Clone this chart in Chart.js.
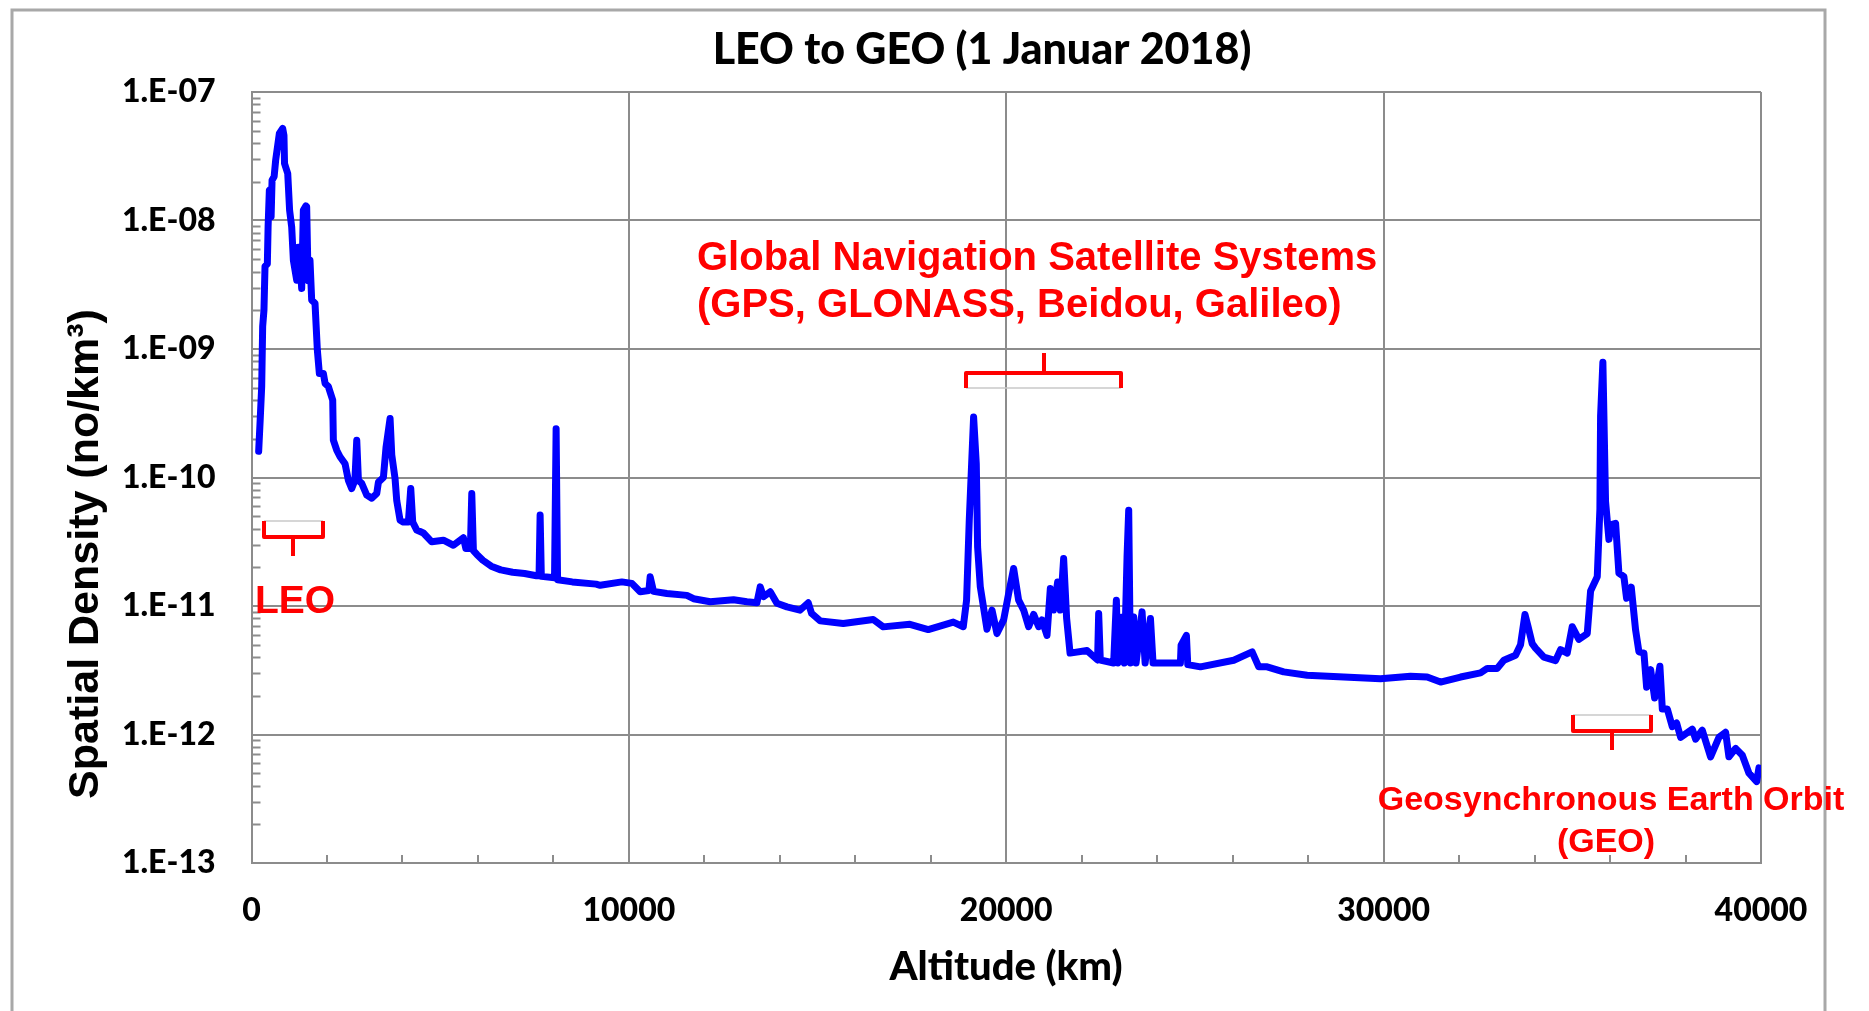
<!DOCTYPE html>
<html>
<head>
<meta charset="utf-8">
<script src="https://cdn.jsdelivr.net/npm/chart.js@4.4.0/dist/chart.umd.min.js"></script>
<style>
html,body{margin:0;padding:0;background:#fff;overflow:hidden}
#wrap{width:1869px;height:1011px;position:relative}
</style>
</head>
<body>
<div id="wrap"><canvas id="c" width="1869" height="1011"></canvas></div>
<script>
// ---------- DATA ----------
const chartTitle = 'LEO to GEO (1 Januar 2018)';
const xAxisTitle = 'Altitude (km)';
const yAxisTitle = 'Spatial Density (no/km³)';

const xTickValues = [0, 10000, 20000, 30000, 40000];
const yTickValues = [1e-13, 1e-12, 1e-11, 1e-10, 1e-9, 1e-8, 1e-7];
const yTickLabels = ['1.E-13', '1.E-12', '1.E-11', '1.E-10', '1.E-09', '1.E-08', '1.E-07'];

const altitudeKm = [
  190, 230, 270, 296, 330, 358, 420, 440, 473, 500, 520, 545, 600, 640, 738, 826, 860, 875, 960, 1010,
  1065, 1110, 1198, 1240, 1280, 1330, 1374, 1440, 1462, 1500, 1550, 1595, 1683, 1745, 1798, 1904, 1950, 2037, 2152, 2169,
  2258, 2346, 2479, 2567, 2656, 2740, 2789, 2833, 2921, 3054, 3187, 3319, 3363, 3495, 3566, 3672, 3717, 3804, 3849, 3937,
  4025, 4157, 4220, 4272, 4379, 4555, 4776, 5085, 5350, 5615, 5680, 5800, 5837, 5880, 5972, 6130, 6352, 6604, 6920, 7236,
  7552, 7620, 7648, 7680, 8030, 8072, 8110, 8500, 9132, 9239, 9814, 10079, 10299, 10530, 10564, 10653, 11007, 11537, 11713, 12155,
  12773, 13128, 13393, 13481, 13569, 13746, 13923, 14188, 14533, 14753, 14842, 15070, 15681, 16475, 16740, 17447, 17933, 18596, 18861, 18949,
  19020, 19135, 19206, 19241, 19312, 19489, 19622, 19754, 19931, 20063, 20196, 20328, 20461, 20593, 20726, 20859, 20947, 21080, 21168, 21257,
  21362, 21433, 21521, 21600, 21691, 22141, 22420, 22449, 22492, 22846, 22918, 22960, 23077, 23130, 23201, 23245, 23289, 23378, 23440, 23599,
  23680, 23821, 23890, 24261, 24615, 24633, 24774, 24810, 25145, 26029, 26515, 26691, 26913, 27352, 27973, 28945, 29917, 30712, 31154, 31508,
  32038, 32568, 32745, 33011, 33186, 33496, 33628, 33745, 33823, 33937, 34025, 34246, 34556, 34688, 34865, 34998, 35174, 35396, 35484, 35661,
  35731, 35749, 35810, 35881, 35970, 36032, 36147, 36235, 36367, 36438, 36562, 36677, 36765, 36898, 36969, 37075, 37181, 37321, 37385, 37517,
  37650, 37764, 37870, 38180, 38267, 38444, 38664, 38885, 39062, 39150, 39327, 39505, 39681, 39885, 39946, 40000
];
const densityPerKm3 = [
  1.6e-10, 2.8e-10, 5.1e-10, 1.5e-9, 2.0e-9, 4.4e-9, 4.6e-9, 9.0e-9, 1.72e-8, 1.75e-8, 1.07e-8, 2.06e-8, 2.2e-8, 2.94e-8, 4.75e-8, 5.2e-8, 4.6e-8, 2.78e-8, 2.32e-8, 1.2e-8,
  8.9e-9, 4.9e-9, 3.43e-9, 6.2e-9, 4.9e-9, 2.96e-9, 1.2e-8, 1.3e-8, 1.28e-8, 3.4e-9, 4.9e-9, 2.4e-9, 2.27e-9, 9.8e-10, 6.45e-10, 6.45e-10, 5.4e-10, 5.1e-10, 4.0e-10, 1.95e-10,
  1.63e-10, 1.45e-10, 1.28e-10, 9.5e-11, 8.2e-11, 9.5e-11, 1.95e-10, 9.5e-11, 9.0e-11, 7.3e-11, 6.9e-11, 7.5e-11, 9.2e-11, 1.0e-10, 1.73e-10, 2.88e-10, 1.5e-10, 9.8e-11, 6.6e-11, 4.65e-11,
  4.5e-11, 4.5e-11, 8.2e-11, 4.5e-11, 3.9e-11, 3.7e-11, 3.16e-11, 3.25e-11, 2.97e-11, 3.4e-11, 2.8e-11, 2.8e-11, 7.5e-11, 2.7e-11, 2.52e-11, 2.27e-11, 2.04e-11, 1.91e-11, 1.83e-11, 1.79e-11,
  1.72e-11, 1.72e-11, 5.1e-11, 1.7e-11, 1.66e-11, 2.4e-10, 1.6e-11, 1.54e-11, 1.48e-11, 1.45e-11, 1.54e-11, 1.5e-11, 1.29e-11, 1.32e-11, 1.69e-11, 1.3e-11, 1.25e-11, 1.21e-11, 1.14e-11, 1.08e-11,
  1.12e-11, 1.08e-11, 1.06e-11, 1.41e-11, 1.18e-11, 1.29e-11, 1.05e-11, 9.85e-12, 9.27e-12, 1.06e-11, 8.75e-12, 7.66e-12, 7.31e-12, 7.85e-12, 6.88e-12, 7.2e-12, 6.56e-12, 7.5e-12, 6.9e-12, 1.11e-11,
  4.65e-11, 2.96e-10, 1.28e-10, 2.88e-11, 1.41e-11, 6.6e-12, 9.3e-12, 6.1e-12, 7.8e-12, 1.25e-11, 1.96e-11, 1.11e-11, 9.3e-12, 6.9e-12, 8.6e-12, 6.9e-12, 7.8e-12, 5.9e-12, 1.37e-11, 9.3e-12,
  1.54e-11, 9.3e-12, 2.34e-11, 8.0e-12, 4.3e-12, 4.5e-12, 3.8e-12, 8.75e-12, 3.8e-12, 3.6e-12, 1.11e-11, 3.6e-12, 8.2e-12, 3.6e-12, 2.41e-11, 5.57e-11, 3.6e-12, 8.2e-12, 3.6e-12, 9.0e-12,
  3.6e-12, 8.0e-12, 3.6e-12, 3.6e-12, 3.6e-12, 4.95e-12, 5.9e-12, 3.5e-12, 3.36e-12, 3.78e-12, 4.4e-12, 3.36e-12, 3.36e-12, 3.07e-12, 2.89e-12, 2.8e-12, 2.72e-12, 2.84e-12, 2.8e-12, 2.56e-12,
  2.8e-12, 3.02e-12, 3.27e-12, 3.27e-12, 3.78e-12, 4.14e-12, 5.0e-12, 8.6e-12, 7.0e-12, 5.1e-12, 4.7e-12, 4.0e-12, 3.76e-12, 4.58e-12, 4.3e-12, 6.9e-12, 5.5e-12, 6.1e-12, 1.31e-11, 1.69e-11,
  5.7e-11, 3.0e-10, 7.9e-10, 6.5e-11, 3.3e-11, 4.3e-11, 4.4e-11, 1.8e-11, 1.69e-11, 1.15e-11, 1.4e-11, 6.5e-12, 4.4e-12, 4.3e-12, 2.33e-12, 3.2e-12, 1.92e-12, 3.4e-12, 1.58e-12, 1.58e-12,
  1.15e-12, 1.23e-12, 9.5e-13, 1.1e-12, 9.2e-13, 1.08e-12, 6.7e-13, 9.5e-13, 1.04e-12, 6.7e-13, 7.8e-13, 6.9e-13, 5.0e-13, 4.3e-13, 5.5e-13, 5.0e-13
];

const annotationGnss = ['Global Navigation Satellite Systems', '(GPS, GLONASS, Beidou, Galileo)'];
const annotationLeo = 'LEO';
const annotationGeo = ['Geosynchronous Earth Orbit', '(GEO)'];

// ---------- STYLE ----------
const gridColor = '#8c8c8c';
const red = '#ff0000';
const latoHeavy = (s) => '900 ' + s + 'px Lato, "Open Sans", sans-serif';
const arialBold = (s) => 'bold ' + s + 'px "Liberation Sans", Arial, sans-serif';

const points = altitudeKm.map((a, i) => ({ x: a, y: densityPerKm3[i] }));

function bracket(ctx, x1, x2, yEnd, yBar, xMid, yTip, grayY) {
  ctx.save();
  ctx.strokeStyle = '#c8c8c8';
  ctx.lineWidth = 1.5;
  ctx.beginPath(); ctx.moveTo(x1, grayY); ctx.lineTo(x2, grayY); ctx.stroke();
  ctx.strokeStyle = red;
  ctx.lineWidth = 4;
  ctx.lineJoin = 'round';
  ctx.lineCap = 'butt';
  ctx.beginPath();
  ctx.moveTo(x1, yEnd); ctx.lineTo(x1, yBar); ctx.lineTo(x2, yBar); ctx.lineTo(x2, yEnd);
  ctx.stroke();
  ctx.beginPath(); ctx.moveTo(xMid, yBar); ctx.lineTo(xMid, yTip); ctx.stroke();
  ctx.restore();
}

const decor = {
  id: 'decor',
  beforeDraw(chart) {
    const ctx = chart.ctx;
    ctx.save();
    ctx.fillStyle = '#ffffff';
    ctx.fillRect(0, 0, chart.width, chart.height);
    ctx.strokeStyle = '#a8a8a8';
    ctx.lineWidth = 3;
    ctx.strokeRect(12, 10, 1813, 1100);
    ctx.restore();
  },
  beforeDatasetsDraw(chart) {
    const ctx = chart.ctx, ca = chart.chartArea;
    const xs = chart.scales.x, ys = chart.scales.y;
    ctx.save();
    ctx.strokeStyle = gridColor;
    ctx.lineWidth = 2;
    ctx.beginPath();
    for (let e = -13; e < -7; e++) {
      for (let k = 2; k <= 9; k++) {
        const y = Math.round(ys.getPixelForValue(k * Math.pow(10, e))) + 0.5;
        ctx.moveTo(ca.left, y); ctx.lineTo(ca.left + 9, y);
      }
    }
    for (let a = 2000; a < 40000; a += 2000) {
      if (a % 10000 === 0) continue;
      const x = Math.round(xs.getPixelForValue(a));
      ctx.moveTo(x, ca.bottom); ctx.lineTo(x, ca.bottom - 8);
    }
    ctx.stroke();
    ctx.restore();
  },
  afterDraw(chart) {
    const ctx = chart.ctx;
    ctx.save();
    ctx.fillStyle = '#000';
    ctx.textAlign = 'center';
    ctx.textBaseline = 'alphabetic';
    ctx.font = latoHeavy(43);
    ctx.fillText(chartTitle, 982, 64);
    ctx.font = latoHeavy(40);
    ctx.fillText(xAxisTitle, 1006, 980);
    ctx.save();
    ctx.translate(98, 554);
    ctx.rotate(-Math.PI / 2);
    ctx.font = arialBold(43);
    ctx.fillText(yAxisTitle, 0, 0);
    ctx.restore();
    ctx.fillStyle = red;
    ctx.font = arialBold(40);
    ctx.textAlign = 'left';
    ctx.fillText(annotationGnss[0], 697, 270);
    ctx.fillText(annotationGnss[1], 697, 317);
    ctx.font = arialBold(39);
    ctx.fillText(annotationLeo, 255, 613);
    ctx.font = arialBold(34);
    ctx.textAlign = 'center';
    ctx.fillText(annotationGeo[0], 1611, 810);
    ctx.fillText(annotationGeo[1], 1606, 852);
    ctx.restore();
    bracket(ctx, 264, 323, 521, 537, 293, 556, 521);
    bracket(ctx, 966, 1121, 388, 373, 1044, 353, 388);
    bracket(ctx, 1573, 1651, 715, 731, 1612, 750, 715);
  }
};

const tickFont = { family: 'Lato, "Open Sans", sans-serif', weight: '900', size: 32 };

const ctx = document.getElementById('c').getContext('2d');
new Chart(ctx, {
  type: 'line',
  data: {
    datasets: [{
      data: points,
      borderColor: '#0000ff',
      borderWidth: 7,
      pointRadius: 0,
      tension: 0,
      fill: false,
      borderJoinStyle: 'round',
      borderCapStyle: 'round'
    }]
  },
  options: {
    responsive: false,
    animation: false,
    devicePixelRatio: 1,
    layout: { padding: { left: 0, top: 92, right: 108, bottom: 0 } },
    plugins: { legend: { display: false }, title: { display: false }, tooltip: { enabled: false } },
    scales: {
      x: {
        type: 'linear',
        min: 0, max: 40000,
        afterBuildTicks: (s) => { s.ticks = xTickValues.map(v => ({ value: v })); },
        afterFit: (s) => { s.height = 148; },
        grid: { color: gridColor, lineWidth: 2, drawTicks: false },
        border: { color: gridColor, width: 2 },
        ticks: {
          color: '#000',
          font: tickFont,
          padding: 28,
          maxRotation: 0,
          autoSkip: false,
          callback: (v) => String(v)
        }
      },
      y: {
        type: 'logarithmic',
        min: 1e-13, max: 1e-7,
        afterBuildTicks: (s) => { s.ticks = yTickValues.map(v => ({ value: v })); },
        afterFit: (s) => { s.width = 251.5; },
        grid: { color: gridColor, lineWidth: 2, drawTicks: false },
        border: { color: gridColor, width: 2 },
        ticks: {
          color: '#000',
          font: tickFont,
          padding: 36,
          autoSkip: false,
          callback: (v) => {
            const i = yTickValues.findIndex(t => Math.abs(Math.log10(t) - Math.log10(v)) < 1e-6);
            return i >= 0 ? yTickLabels[i] : '';
          }
        }
      }
    }
  },
  plugins: [decor]
});
</script>
</body>
</html>
